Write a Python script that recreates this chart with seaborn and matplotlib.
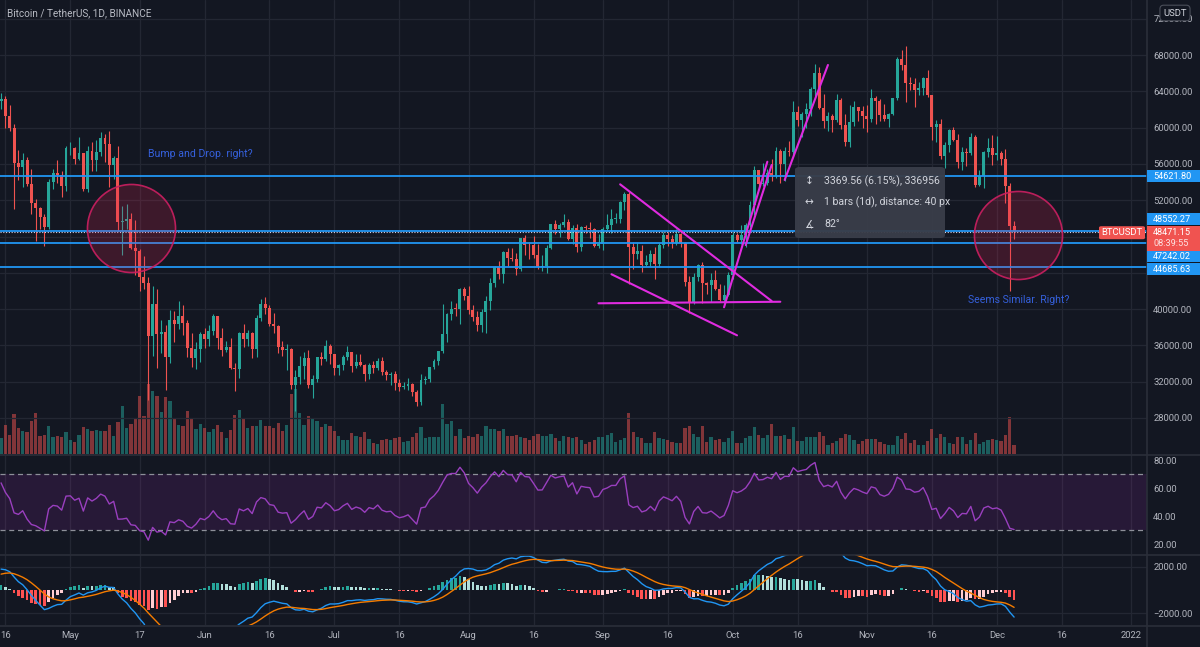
import numpy as np
import pandas as pd
import matplotlib
matplotlib.use('Agg')
import matplotlib.pyplot as plt
import matplotlib.patches as mpatches
from matplotlib.lines import Line2D
import seaborn as sns

# %% data (BTCUSDT 1D)
start_date = '2021-04-15'
first_open = 62960.0

high_px = [
    63800, 63520, 62500, 60400, 57520, 57200, 56760, 55400, 52130, 51200, 50500, 54360, 55460, 56430, 55200, 58000,
    58450, 57900, 58980, 57200, 57950, 58360, 58650, 59500, 59300, 59600, 56900, 58000, 51370, 51600, 50600, 49800,
    46600, 45800, 43550, 42500, 42200, 38850, 38270, 39900, 39800, 40850, 40400, 38800, 37340, 36400, 37500,
    37900, 38230, 39480, 39290, 37900, 36480, 36800, 34070, 37530, 38400, 37690, 37450, 39380, 41060, 41330, 40500,
    39560, 38200, 36460, 36100, 35750, 33300, 34880, 35300, 35500, 32700, 34750, 35300, 36600, 36100,
    35040, 33950, 34950, 35950, 35300, 35000, 35060, 33900, 34100, 34250, 34600, 34680, 33340, 33100, 33180, 32250,
    31950, 32430, 31900, 31060, 32860, 32580, 33650, 34500, 35400, 40550, 39540, 40900, 40630, 42320, 42410,
    42600, 40450, 39780, 39970, 41400, 43400, 44700, 45300, 46450, 46700, 46780, 46220, 47880, 48140, 47370, 48050,
    47160, 46000, 47050, 49380, 49800, 49500, 50500, 49880, 49280, 49360, 49170, 49310, 49650, 48900, 48250,
    49000, 50450, 51050, 50540, 51900, 52920, 52920, 47380, 47400, 47040, 45990, 46460, 46880, 47250, 48490, 48500,
    48170, 48840, 48370, 47360, 43640, 44000, 44980, 45200, 42970, 43940, 44350, 42790, 42690, 44130,
    48500, 48350, 49230, 49530, 51890, 55750, 55340, 56100, 55490, 56560, 57840, 57680, 57820, 58530, 62930, 62350,
    61720, 62700, 64490, 67000, 66640, 63730, 61740, 61490, 63710, 63290, 61500, 62500, 62980, 62260, 62400,
    62440, 64270, 63500, 63120, 62600, 61560, 63290, 67800, 68530, 69000, 65600, 65470, 64990, 65550, 66400, 63620,
    60840, 60950, 58370, 59850, 60050, 59270, 57880, 57700, 59400, 59180, 55280, 57440, 58860, 59180,
    59050, 57380, 57600, 53860, 49700,
]
low_px = [
    62020, 60000, 59580, 51000, 54220, 53420, 53600, 50500, 47500, 48800, 47000, 48800, 53220, 53860, 52330, 53000,
    57000, 56000, 56480, 53000, 52900, 55200, 55250, 56900, 56230, 53400, 54370, 48600, 46000, 48800, 46650, 43800,
    42000, 42200, 30000, 34850, 33500, 35200, 31100, 34100, 36400, 37800, 37200, 34700, 33630, 33400, 34150,
    35660, 35920, 37170, 35570, 34800, 35260, 33350, 31000, 32400, 35800, 35930, 34600, 34760, 38730, 39500, 38120,
    37370, 35130, 34820, 33340, 31250, 28800, 31700, 32300, 31300, 30150, 32000, 33870, 34230, 34000,
    32700, 32700, 33300, 34400, 33100, 33500, 33770, 32080, 32260, 33000, 33300, 32700, 32200, 31600, 31130, 31030,
    31170, 31110, 30400, 29280, 29480, 31700, 31950, 33400, 33880, 35200, 36400, 38770, 39200, 38320, 41000,
    39420, 38700, 37640, 37510, 37330, 39850, 42450, 43300, 42840, 44700, 45350, 43770, 44250, 45970, 45520, 45660,
    44380, 44200, 43950, 46650, 48300, 48000, 49030, 47600, 47150, 46330, 46360, 48370, 47800, 46870, 46700,
    46510, 48630, 48380, 49460, 49500, 50960, 42800, 44400, 45520, 44140, 44740, 44740, 43370, 44690, 46700, 47000,
    46750, 47040, 46850, 42500, 39600, 40550, 43080, 40680, 41650, 40750, 42100, 40900, 40750, 41410,
    43290, 47430, 47120, 46890, 49060, 50380, 53360, 53600, 53660, 54110, 54420, 53880, 54150, 56820, 56850, 60150,
    58960, 60000, 61320, 63480, 62000, 60000, 59670, 59510, 60650, 59820, 58000, 57820, 60170, 60720, 59950,
    59500, 60620, 60380, 60680, 60720, 60070, 61380, 63090, 66380, 62820, 64100, 62250, 63600, 63580, 63400, 58600,
    58370, 56500, 55600, 57350, 58500, 55600, 55300, 55800, 57000, 53500, 53610, 53330, 56730, 55870,
    56460, 55840, 51680, 42000, 47730,
]
close_px = [
    63160, 61330, 60000, 56150, 55660, 56470, 53800, 51700, 51190, 50100, 49000, 54020, 55030, 54820, 53560, 57700,
    57800, 56580, 57170, 53200, 57440, 56390, 57310, 58840, 58240, 55830, 56670, 49620, 49660, 49880, 46740, 46430,
    43540, 42900, 37000, 40530, 37250, 37530, 34770, 38800, 38330, 39240, 38440, 35660, 34600, 35650, 37300,
    36690, 37570, 39190, 36850, 35520, 35800, 33560, 33380, 37390, 36690, 37340, 35550, 39020, 40520, 40140, 38350,
    38090, 35820, 35480, 35600, 31680, 32500, 33680, 34660, 31590, 32280, 34700, 34490, 35900, 35040,
    33500, 33800, 34690, 35290, 33690, 34220, 33860, 32870, 33810, 33510, 34260, 33090, 32730, 32820, 31880, 31380,
    31520, 31780, 30840, 29790, 32140, 32290, 33590, 34290, 35380, 37280, 39460, 40020, 40010, 42240, 41460,
    39850, 39150, 38210, 39720, 40870, 42840, 44610, 43830, 46290, 45590, 45550, 44420, 47830, 47100, 47020, 45920,
    44690, 44740, 46760, 49340, 48870, 49290, 49550, 47710, 48990, 46850, 49080, 48900, 48810, 46990, 47150,
    48850, 49270, 49940, 49940, 51760, 52660, 46860, 46090, 46400, 44850, 45150, 46030, 44960, 47100, 48140, 47750,
    47300, 48310, 47250, 43020, 40690, 43560, 44880, 42830, 42700, 43180, 42170, 41030, 41520, 43790,
    48140, 47630, 48200, 49220, 51470, 55320, 53790, 53950, 54950, 54660, 57470, 56000, 57370, 57350, 61670, 60880,
    61530, 62010, 64280, 66000, 62210, 60690, 61290, 60850, 63080, 60330, 58450, 60590, 62250, 61860, 61300,
    60910, 63220, 62930, 61400, 61000, 61530, 63270, 67530, 66950, 64880, 64770, 64140, 64380, 65500, 63610, 60060,
    60350, 56900, 58100, 59700, 58620, 56250, 57270, 57150, 58960, 53730, 54720, 57270, 57800, 56950,
    57180, 56500, 53600, 49150, 48471.15,
]
# volume in thousands of BTC
volume_k = [
    48, 88, 58, 121, 78, 70, 66, 100, 123, 55, 58, 84, 51, 55, 51, 66, 43, 37, 56, 81, 76, 70, 73, 68, 68, 86, 53, 96,
    143, 78, 89, 108, 175, 115, 210, 190, 175, 125, 170, 158, 108, 88, 83, 128, 108, 76, 90, 78, 66, 76, 88, 66, 48,
    73, 118, 131, 106, 78, 83, 83, 103, 83, 83, 78, 93, 68, 88, 180, 195, 123, 86, 113, 105, 100, 80, 90, 83, 70, 55,
    43, 43, 63, 55, 50, 66, 46, 33, 31, 43, 45, 41, 48,
    50, 37, 39, 50, 62, 82, 48, 52, 50, 50, 150, 90, 100, 55, 75, 48, 54, 52, 59, 54, 84, 75, 75, 70, 75, 54, 54, 56,
    50, 47, 43, 54, 59, 54, 54, 59, 47, 38, 54, 52, 47, 52, 43, 29, 36, 43, 50, 52, 57, 62, 36, 43, 49, 122, 66, 52,
    49, 34, 34, 66, 48, 45, 43, 36, 34, 32, 78, 84, 59, 50, 84, 36, 52, 43, 45, 36, 48, 68, 33, 33, 48, 54, 80, 57,
    48, 57, 89, 54, 54, 57, 45, 82, 39,
    38, 51, 51, 51, 66, 53, 26, 33, 38, 48, 61, 58, 41, 31, 38, 45, 45, 45, 36, 31, 26, 26, 55, 45, 63, 33, 41, 26,
    26, 38, 75, 48, 61, 51, 33, 31, 50, 50, 31, 41, 63, 31, 36, 41, 45, 41, 38, 58, 110, 26,
]
# closes 2021-03-01 .. 2021-04-14, only used to warm up RSI / MACD
warmup_close = [
    49600, 48400, 50350, 48370, 48750, 48880, 50970, 52380, 54880, 55850, 57770, 57220, 61190, 59000, 55600, 56900,
    58910, 57650, 58030, 58100, 57350, 54080, 54340, 52300, 51300, 55070, 55840, 55780, 57630, 58760, 58800,
    58720, 58980, 57060, 58200, 59130, 57990, 56000, 57990, 58100, 59770, 59980, 59840, 63590, 62960,
]

# drawn levels and their tag shift on the price scale (px)
level_prices = [54621.80, 48552.27, 47242.02, 44685.63]
level_tag_shift = [0, -12, 13, 2.5]

# trend lines: (start date, start price, end date, end price)
trend_lines = [
    ('2021-09-05', 53750, '2021-10-10', 40890),
    ('2021-09-03', 43840, '2021-10-02', 37110),
    ('2021-08-31', 40640, '2021-10-12', 40810),
    ('2021-09-29', 40200, '2021-10-09', 56240),
    ('2021-10-04', 47060, '2021-10-10', 55880),
    ('2021-10-13', 54230, '2021-10-23', 66900),
]
circle_dates = ['2021-05-15', '2021-12-06']
circle_prices = [48940, 48170]
notes = [('2021-05-19', 57090, 'Bump and Drop. right?', 'left'),
         ('2021-12-06', 41000, 'Seems Similar. Right?', 'center')]

tick_dates = ['2021-04-16', '2021-05-01', '2021-05-17', '2021-06-01', '2021-06-16', '2021-07-01', '2021-07-16',
              '2021-08-01', '2021-08-16', '2021-09-01', '2021-09-16', '2021-10-01', '2021-10-16', '2021-11-01',
              '2021-11-16', '2021-12-01', '2021-12-16', '2022-01-01']
tick_labels = ['16', 'May', '17', 'Jun', '16', 'Jul', '16', 'Aug', '16', 'Sep', '16', 'Oct', '16', 'Nov',
               '16', 'Dec', '16', '2022']
price_ticks = list(range(28000, 72001, 4000))
hidden_price_ticks = [44000, 48000]   # covered by the level tags on the scale

# %% indicators
close_arr = np.array(close_px, dtype=float)
open_arr = np.r_[first_open, close_arr[:-1]]   # 24/7 market: open = previous close
high_arr = np.array(high_px, dtype=float)
low_arr = np.array(low_px, dtype=float)
vol_arr = np.array(volume_k, dtype=float)
n = len(close_arr)
n_warm = len(warmup_close)
t0 = pd.Timestamp(start_date)
day = np.arange(n)

def day_of(d):
    return (pd.Timestamp(d) - t0).days

all_close = pd.Series(np.r_[warmup_close, close_arr], dtype=float)
delta = all_close.diff()
gain = delta.clip(lower=0).ewm(alpha=1 / 14, adjust=False).mean()
loss = (-delta.clip(upper=0)).ewm(alpha=1 / 14, adjust=False).mean()
rsi_all = 100 - 100 / (1 + gain / loss)
macd_all = all_close.ewm(span=12, adjust=False).mean() - all_close.ewm(span=26, adjust=False).mean()
signal_all = macd_all.ewm(span=9, adjust=False).mean()
hist_all = (macd_all - signal_all).to_numpy()
rsi = rsi_all.to_numpy()[n_warm:]
macd = macd_all.to_numpy()[n_warm:]
signal = signal_all.to_numpy()[n_warm:]
hist = hist_all[n_warm:]
hist_prev = hist_all[n_warm - 1:-1]

# %% style
BG = '#131722'
GRID = '#232733'
TXT = '#b2b5be'
UP, DN = '#26a69a', '#ef5350'
BLUE = '#2196f3'
MAGENTA = '#e02be0'

sns.set_theme(style='dark', rc={'axes.facecolor': BG, 'figure.facecolor': BG,
                                'axes.edgecolor': BG, 'grid.color': GRID})
plt.rcParams['font.family'] = ['Roboto', 'DejaVu Sans']
FS = 6.8      # scale labels
FS_NOTE = 7.6  # drawings / tooltip

W, H = 1200, 647
fig = plt.figure(figsize=(W / 100, H / 100), dpi=100)

def px_rect(x0, y0, x1, y1):
    return [x0 / W, 1 - y1 / H, (x1 - x0) / W, (y1 - y0) / H]

ax_vol = fig.add_axes(px_rect(0, 0, 1147, 454), zorder=0)
ax = fig.add_axes(px_rect(0, 0, 1147, 454), sharex=ax_vol, zorder=1)
ax_rsi = fig.add_axes(px_rect(0, 455, 1147, 554), sharex=ax_vol)
ax_macd = fig.add_axes(px_rect(0, 555, 1147, 625), sharex=ax_vol)
ax.set_facecolor('none')

candle_col = np.where(close_arr >= open_arr, UP, DN)

# volume
ax_vol.bar(day, vol_arr, width=0.75, color=candle_col, alpha=0.5, linewidth=0)
ax_vol.set_ylim(0, 3 * 454)

# candles
ax.vlines(day, low_arr, high_arr, colors=candle_col, linewidth=0.8, zorder=3)
body = np.maximum(np.abs(close_arr - open_arr), 90)
ax.bar(day, body, bottom=np.minimum(open_arr, close_arr), width=0.68, color=candle_col, linewidth=0, zorder=3)
ax.set_ylim(24033, 74061)
ax.set_xlim(-0.25, 264.7)

# levels and last price line
for lv in level_prices:
    ax.axhline(lv, color=BLUE, linewidth=1.3, zorder=5)
ax.axhline(close_arr[-1], color='#d5d0e6', linewidth=0.8, linestyle=(0, (1, 1.5)), zorder=6)

# trend lines
for d0, p0, d1, p1 in trend_lines:
    ax.plot([day_of(d0), day_of(d1)], [p0, p1], color=MAGENTA, linewidth=1.5, zorder=6,
            solid_capstyle='round')

# circles
ax.scatter([day_of(d) for d in circle_dates], circle_prices, s=4020, marker='o',
           facecolor=(0.9, 0.15, 0.33, 0.2), edgecolor=(0.80, 0.12, 0.38, 0.9), linewidth=1.2, zorder=7)

for d, p, txt, ha in notes:
    ax.text(day_of(d), p, txt, color='#3560dc', fontsize=FS_NOTE, ha=ha, va='center', zorder=8)

# RSI
ax_rsi.axhspan(30, 70, color='#9c27b0', alpha=0.15, linewidth=0)
for lvl in (70, 30):
    ax_rsi.axhline(lvl, color='#8d9099', linewidth=0.9, linestyle=(0, (4, 3)))
sns.lineplot(x=day, y=rsi, ax=ax_rsi, color='#9a3fbf', linewidth=1.0)
ax_rsi.set_ylim(12.9, 83.6)

# MACD
hist_col = np.where(hist >= 0, np.where(hist > hist_prev, '#26a69a', '#b2dfdb'),
                    np.where(hist < hist_prev, '#ff5252', '#ffcdd2'))
ax_macd.bar(day, hist, width=0.62, color=hist_col, linewidth=0)
sns.lineplot(x=day, y=macd, ax=ax_macd, color='#2196f3', linewidth=1.0)
sns.lineplot(x=day, y=signal, ax=ax_macd, color='#f57c00', linewidth=1.0)
ax_macd.set_ylim(-3043, 3043)

# axes, ticks, grid
tick_pos = [day_of(d) for d in tick_dates]
ax_macd.set_xticks(tick_pos)
ax_macd.set_xticklabels(tick_labels)
for a in (ax_vol, ax, ax_rsi, ax_macd):
    a.set_xlabel('')
    a.set_ylabel('')
    for s in a.spines.values():
        s.set_visible(False)
    a.tick_params(axis='x', length=0, labelbottom=(a is ax_macd), labelsize=FS, labelcolor=TXT, pad=4)
    a.yaxis.tick_right()
    a.tick_params(axis='y', length=0, labelsize=FS, labelcolor=TXT, pad=4.5)
ax_vol.set_yticks([])
ax_vol.grid(True, axis='x', color=GRID, linewidth=0.9)
ax.grid(True, axis='y', color=GRID, linewidth=0.9)
ax.grid(False, axis='x')
ax_rsi.grid(True, axis='x', color=GRID, linewidth=0.9)
ax_rsi.grid(False, axis='y')
ax_macd.grid(True, color=GRID, linewidth=0.9)

ax.set_yticks(price_ticks)
ax.set_yticklabels(['' if v in hidden_price_ticks else f'{v:.2f}' for v in price_ticks])
rsi_ticks = [20, 40, 60, 80]
ax_rsi.set_yticks(rsi_ticks)
ax_rsi.set_yticklabels([f'{v:.2f}' for v in rsi_ticks])
macd_ticks = [-2000, 2000]
ax_macd.set_yticks(macd_ticks)
ax_macd.set_yticklabels([f'{v:.2f}'.replace('-', '\u2212') for v in macd_ticks])

# panel separators
for yy in (454.5, 554.5, 625.5):
    fig.add_artist(Line2D([0, 1], [1 - yy / H] * 2, transform=fig.transFigure, color='#2a2e39', linewidth=1.2))
fig.add_artist(Line2D([1147 / W] * 2, [1 - 647 / H, 1], transform=fig.transFigure, color='#2a2e39', linewidth=1.2))

# price-scale tags
def y_px(price):
    return H - ax.transData.transform((0, price))[1]

def px_box(x0, y0, x1, y1, color, round_box=False):
    if round_box:
        patch = mpatches.FancyBboxPatch((x0 / W, 1 - y1 / H), (x1 - x0) / W, (y1 - y0) / H,
                                        boxstyle='round,pad=0,rounding_size=0.002', transform=fig.transFigure,
                                        fc=color, ec='none', zorder=20)
    else:
        patch = mpatches.Rectangle((x0 / W, 1 - y1 / H), (x1 - x0) / W, (y1 - y0) / H,
                                   transform=fig.transFigure, fc=color, ec='none', zorder=20)
    fig.add_artist(patch)

for lv, dy in zip(level_prices, level_tag_shift):
    yc = y_px(lv) + dy
    px_box(1147, yc - 6, 1200, yc + 6, BLUE)
    fig.text(1153 / W, 1 - yc / H, f'{lv:.2f}', color='white', fontsize=FS - 0.2, va='center', zorder=21)

yl = y_px(close_arr[-1])
px_box(1147, yl - 6, 1200, yl + 19, '#f05350')
fig.text(1153 / W, 1 - (yl + 0.5) / H, f'{close_arr[-1]:.2f}', color='white', fontsize=FS - 0.2,
         va='center', zorder=21)
fig.text(1153 / W, 1 - (yl + 11.5) / H, '08:39:55', color='#fde2e2', fontsize=FS - 0.2, va='center', zorder=21)
px_box(1099, yl - 6, 1145, yl + 7, '#f05350', round_box=True)
fig.text(1122 / W, 1 - (yl + 0.5) / H, 'BTCUSDT', color='white', fontsize=FS, ha='center', va='center', zorder=21)

# measure tooltip
fig.add_artist(mpatches.FancyBboxPatch((795 / W, 1 - 238 / H), 150 / W, 71 / H,
                                       boxstyle='round,pad=0,rounding_size=0.004', transform=fig.transFigure,
                                       fc='#393d49', ec='none', alpha=0.96, zorder=22))
tip_rows = [('\u2195', '3369.56 (6.15%), 336956'),
            ('\u2194', '1 bars (1d), distance: 40 px'),
            ('\u2221', '82\u00b0')]
for k, (icon, txt) in enumerate(tip_rows):
    yy = 181 + 21.5 * k
    fig.text(809 / W, 1 - yy / H, icon, color='#d1d4dc', fontsize=FS_NOTE, ha='center', va='center', zorder=23)
    fig.text(824 / W, 1 - yy / H, txt, color='#d1d4dc', fontsize=FS_NOTE, va='center', zorder=23)

# header and currency badge
fig.text(7 / W, 1 - 13 / H, 'Bitcoin / TetherUS, 1D, BINANCE', color='#b8bbc4', fontsize=7.2, va='center')
fig.text(1175 / W, 1 - 13 / H, 'USDT', color='#d1d4dc', fontsize=FS, ha='center', va='center', zorder=25,
         bbox=dict(boxstyle='round,pad=0.35,rounding_size=0.4', fc=BG, ec='#4a4e59', lw=0.8))

fig.savefig('out.png', dpi=100, facecolor=BG)
